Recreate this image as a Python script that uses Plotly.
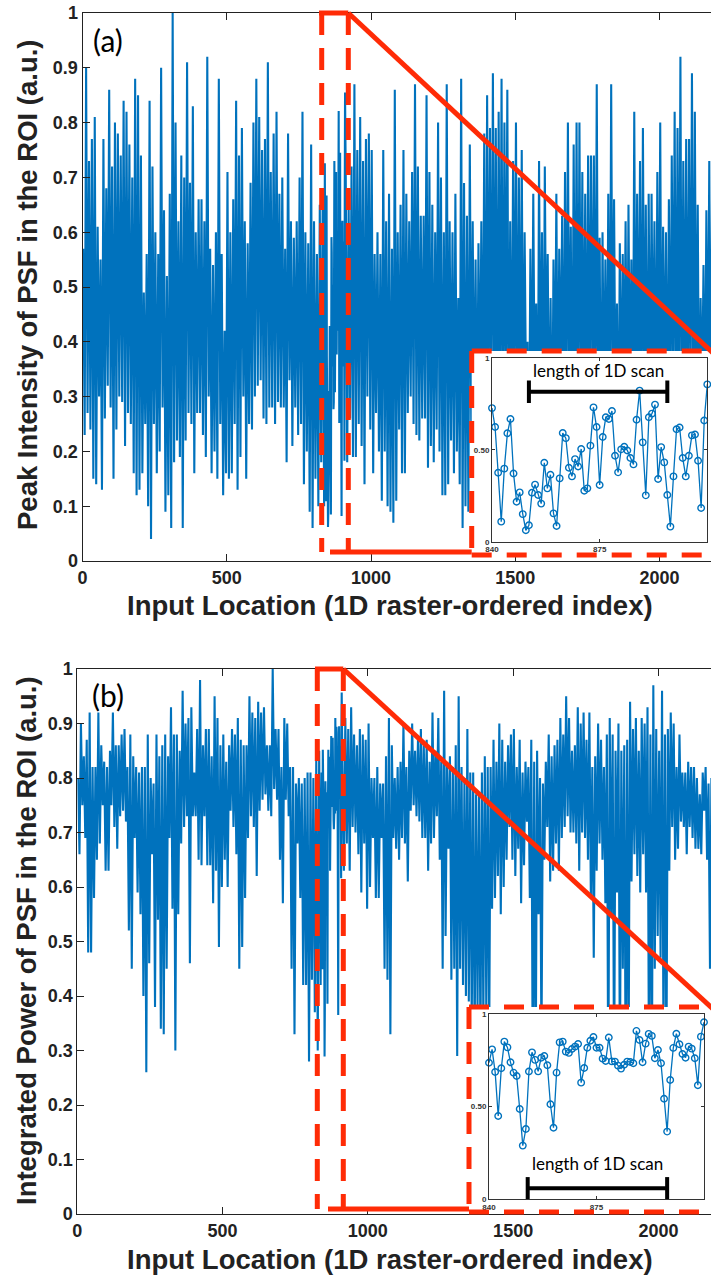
import plotly.graph_objects as go

W, H = 711, 1277
def px(x):
    return x / W
def py(y):
    return 1 - y / H

BLUE = '#0072BD'
RED = '#FF2B06'
BIN = 10
ZOOM_START, ZOOM_END = 840, 910

# ---------------- Panel (a): peak intensity ----------------
a_hi_pre = [0.57, 0.90, 0.73, 0.77, 0.81, 0.61, 0.55, 0.77, 0.68, 0.86,
            0.72, 0.80, 0.78, 0.74, 0.84, 0.82, 0.76, 0.70, 0.88, 0.85,
            0.74, 0.49, 0.56, 0.84, 0.72, 0.60, 0.56, 0.90, 0.64, 0.52,
            0.67, 1.00, 0.80, 0.62, 0.74, 0.70, 0.91, 0.69, 0.83, 0.60,
            0.66, 0.66, 0.62, 0.92, 0.57, 0.54, 0.60, 0.88, 0.56, 0.42,
            0.71, 0.60, 0.66, 0.84, 0.74, 0.79, 0.62, 0.58, 0.69, 0.80,
            0.88, 0.81, 0.75, 0.77, 0.91, 0.71, 0.78, 0.82, 0.67, 0.70,
            0.57, 0.78, 0.62, 0.59,
            0.62, 0.70, 0.82, 0.60, 0.58, 0.76, 0.62, 0.56, 0.65, 0.66]
a_lo_pre = [0.23, 0.27, 0.24, 0.15, 0.14, 0.30, 0.13, 0.26, 0.32, 0.28,
            0.15, 0.24, 0.30, 0.29, 0.21, 0.27, 0.25, 0.16, 0.12, 0.13,
            0.16, 0.25, 0.10, 0.04, 0.25, 0.16, 0.20, 0.28, 0.09, 0.12,
            0.06, 0.18, 0.22, 0.19, 0.06, 0.22, 0.27, 0.25, 0.16, 0.27,
            0.27, 0.23, 0.19, 0.30, 0.16, 0.20, 0.15, 0.25, 0.12, 0.16,
            0.15, 0.16, 0.25, 0.13, 0.19, 0.30, 0.15, 0.25, 0.24, 0.30,
            0.32, 0.33, 0.26, 0.25, 0.28, 0.28, 0.25, 0.29, 0.28, 0.28,
            0.18, 0.33, 0.21, 0.28,
            0.23, 0.25, 0.14, 0.20, 0.09, 0.06, 0.15, 0.10, 0.18, 0.10]
a_inset = [0.726, 0.623, 0.375, 0.109, 0.397, 0.589, 0.667, 0.371, 0.217, 0.268,
           0.150, 0.062, 0.089, 0.266, 0.310, 0.254, 0.207, 0.429, 0.290, 0.364,
           0.154, 0.085, 0.344, 0.591, 0.563, 0.402, 0.355, 0.449, 0.409, 0.504,
           0.277, 0.290, 0.522, 0.730, 0.623, 0.308, 0.569, 0.676, 0.667, 0.710,
           0.467, 0.377, 0.502, 0.516, 0.496, 0.455, 0.420, 0.663, 0.821, 0.540,
           0.252, 0.676, 0.696, 0.745, 0.341, 0.514, 0.431, 0.254, 0.082, 0.355,
           0.611, 0.621, 0.455, 0.355, 0.467, 0.578, 0.583, 0.440, 0.183, 0.659,
           0.855]
a_hi_post = [0.70, 0.65, 0.72, 0.87, 0.75, 0.81, 0.73, 0.77, 0.78, 0.75,
             0.56, 0.60, 0.56, 0.75, 0.62, 0.67, 0.57, 0.86, 0.60, 0.65,
             0.75, 0.67, 0.62, 0.71, 0.87, 0.72, 0.63, 0.63, 0.85, 0.71,
             0.65, 0.60, 0.80, 0.70, 0.60, 0.87, 0.62, 0.60, 0.67, 0.48,
             0.88, 0.69, 0.63, 0.76, 0.62, 0.55, 0.58, 0.62, 0.78, 0.85,
             0.79, 0.89, 0.79, 0.82, 0.88, 0.80, 0.86, 0.62, 0.73, 0.80,
             0.70, 0.75, 0.60, 0.40, 0.57, 0.67, 0.47, 0.73, 0.60, 0.72,
             0.56, 0.48, 0.55, 0.67, 0.57, 0.63, 0.71, 0.80, 0.61, 0.76,
             0.80, 0.80, 0.71, 0.67, 0.74, 0.74, 0.74, 0.87, 0.59, 0.60,
             0.55, 0.67, 0.87, 0.66, 0.47, 0.58, 0.56, 0.62, 0.65, 0.55,
             0.82, 0.67, 0.73, 0.79, 0.65, 0.67, 0.67, 0.62, 0.71, 0.80,
             0.61, 0.60, 0.66, 0.74, 0.82, 0.79, 0.92, 0.73, 0.77, 0.77,
             0.89, 0.82, 0.65, 0.48, 0.54, 0.64, 0.73, 0.70, 0.60]
a_lo_post = [0.18, 0.26, 0.19, 0.19, 0.25, 0.21, 0.14, 0.30, 0.24, 0.16,
             0.27, 0.20, 0.11, 0.20, 0.10, 0.09, 0.07, 0.11, 0.24, 0.16,
             0.16, 0.27, 0.30, 0.25, 0.23, 0.22, 0.26, 0.26, 0.17, 0.21,
             0.18, 0.24, 0.20, 0.12, 0.12, 0.14, 0.22, 0.16, 0.20, 0.14,
             0.06, 0.10, 0.09, 0.25, 0.20, 0.18, 0.25, 0.21, 0.15, 0.27,
             0.22, 0.26, 0.19, 0.24, 0.20, 0.28, 0.17, 0.22, 0.30, 0.18,
             0.24, 0.21, 0.29, 0.15, 0.23, 0.27, 0.12, 0.25, 0.20, 0.31,
             0.18, 0.14, 0.26, 0.22, 0.30, 0.19, 0.24, 0.28, 0.16, 0.25,
             0.21, 0.29, 0.23, 0.17, 0.26, 0.30, 0.20, 0.24, 0.13, 0.27,
             0.22, 0.19, 0.28, 0.25, 0.15, 0.23, 0.31, 0.20, 0.26, 0.18,
             0.24, 0.29, 0.21, 0.27, 0.16, 0.23, 0.30, 0.19, 0.25, 0.22,
             0.28, 0.17, 0.24, 0.30, 0.21, 0.26, 0.19, 0.27, 0.23, 0.29,
             0.20, 0.25, 0.18, 0.28, 0.22, 0.26, 0.17, 0.24, 0.21]

# ---------------- Panel (b): integrated power ----------------
b_hi_pre = [0.80, 0.90, 0.84, 0.87, 0.92, 0.82, 0.82, 0.92, 0.86, 0.83,
            0.82, 0.85, 0.92, 0.86, 0.86, 0.88, 0.89, 0.82, 0.88, 0.84,
            0.82, 0.81, 0.82, 0.82, 0.88, 0.80, 0.79, 0.88, 0.84, 0.86,
            0.88, 0.84, 0.93, 0.88, 0.88, 0.85, 0.96, 0.90, 0.91, 0.93,
            0.81, 0.89, 0.98, 0.86, 0.89, 0.89, 0.84, 0.95, 0.91, 0.86,
            0.88, 0.83, 0.86, 0.89, 0.88, 0.91, 0.87, 0.86, 0.86, 0.95,
            0.92, 0.91, 0.94, 0.92, 0.93, 0.86, 0.86, 1.00, 0.89, 0.89,
            0.82, 0.91, 0.90, 0.82, 0.82, 0.79, 0.80, 0.79, 0.80, 0.81,
            0.81, 0.80, 0.84, 0.85]
b_lo_pre = [0.66, 0.75, 0.69, 0.48, 0.48, 0.58, 0.65, 0.68, 0.75, 0.63,
            0.63, 0.75, 0.71, 0.67, 0.73, 0.74, 0.72, 0.52, 0.45, 0.69,
            0.59, 0.55, 0.40, 0.26, 0.46, 0.66, 0.38, 0.54, 0.34, 0.33,
            0.45, 0.69, 0.56, 0.30, 0.55, 0.68, 0.71, 0.73, 0.46, 0.73,
            0.73, 0.65, 0.64, 0.73, 0.64, 0.64, 0.57, 0.63, 0.49, 0.60,
            0.65, 0.60, 0.74, 0.71, 0.66, 0.45, 0.49, 0.58, 0.69, 0.73,
            0.71, 0.62, 0.74, 0.76, 0.77, 0.74, 0.73, 0.78, 0.76, 0.65,
            0.57, 0.76, 0.73, 0.45, 0.33, 0.68, 0.58, 0.42, 0.42, 0.28,
            0.43, 0.37, 0.30, 0.42]
b_inset = [0.738, 0.810, 0.688, 0.449, 0.708, 0.852, 0.821, 0.740, 0.684, 0.666,
           0.487, 0.289, 0.379, 0.690, 0.794, 0.753, 0.691, 0.765, 0.774, 0.724,
           0.513, 0.386, 0.684, 0.848, 0.852, 0.798, 0.791, 0.812, 0.825, 0.839,
           0.630, 0.709, 0.819, 0.857, 0.877, 0.819, 0.819, 0.760, 0.747, 0.874,
           0.745, 0.744, 0.722, 0.706, 0.727, 0.744, 0.742, 0.735, 0.910, 0.861,
           0.740, 0.841, 0.894, 0.883, 0.762, 0.807, 0.735, 0.543, 0.365, 0.644,
           0.818, 0.895, 0.838, 0.785, 0.765, 0.825, 0.814, 0.762, 0.616, 0.879,
           0.957]
b_hi_post = [0.82, 0.91, 0.89, 0.93, 0.88, 0.86, 0.89, 0.88, 0.87, 0.90,
             0.80, 0.80, 0.82, 0.79, 0.79, 0.84, 0.91, 0.86, 0.80, 0.82,
             0.83, 0.90, 0.82, 0.85, 0.90, 0.85, 0.87, 0.89, 0.86, 0.87,
             0.83, 0.92, 0.85, 0.91, 0.83, 0.96, 0.82, 0.84, 0.82, 0.86,
             0.95, 0.82, 0.80, 0.89, 0.81, 0.81, 0.77, 0.77, 0.81, 0.84,
             0.82, 0.82, 0.87, 0.83, 0.90, 0.87, 0.83, 0.86, 0.88, 0.89,
             0.82, 0.87, 0.81, 0.83, 0.82, 0.87, 0.83, 0.85, 0.80, 0.79,
             0.83, 0.88, 0.84, 0.86, 0.87, 0.91, 0.88, 0.95, 0.91, 0.85,
             0.86, 0.93, 0.90, 0.92, 0.87, 0.92, 0.82, 0.84, 0.90, 0.87,
             0.82, 0.88, 0.91, 0.88, 0.85, 0.90, 0.85, 0.86, 0.87, 0.94,
             0.89, 0.91, 0.85, 0.91, 0.90, 0.93, 0.88, 0.97, 0.89, 0.85,
             0.96, 0.88, 0.89, 0.92, 0.90, 0.82, 0.88, 0.81, 0.81, 0.83,
             0.82, 0.82, 0.80, 0.77, 0.81, 0.82, 0.79, 0.80, 0.82]
b_lo_post = [0.63, 0.68, 0.63, 0.71, 0.70, 0.66, 0.59, 0.68, 0.56, 0.60,
             0.69, 0.58, 0.58, 0.69, 0.45, 0.43, 0.33, 0.69, 0.67, 0.65,
             0.69, 0.68, 0.61, 0.74, 0.75, 0.73, 0.72, 0.69, 0.69, 0.63,
             0.68, 0.69, 0.73, 0.65, 0.45, 0.51, 0.67, 0.43, 0.45, 0.29,
             0.45, 0.42, 0.40, 0.39, 0.34, 0.30, 0.38, 0.30, 0.35, 0.38,
             0.30, 0.56, 0.58, 0.62, 0.55, 0.60, 0.65, 0.71, 0.65, 0.62,
             0.67, 0.57, 0.64, 0.72, 0.58, 0.25, 0.22, 0.55, 0.30, 0.65,
             0.71, 0.61, 0.63, 0.68, 0.63, 0.69, 0.71, 0.73, 0.70, 0.70,
             0.68, 0.63, 0.70, 0.69, 0.65, 0.58, 0.47, 0.63, 0.68, 0.65,
             0.57, 0.20, 0.55, 0.22, 0.59, 0.25, 0.45, 0.20, 0.28, 0.61,
             0.66, 0.62, 0.59, 0.66, 0.59, 0.25, 0.22, 0.45, 0.51, 0.47,
             0.30, 0.25, 0.63, 0.71, 0.65, 0.67, 0.72, 0.71, 0.66, 0.71,
             0.69, 0.67, 0.67, 0.66, 0.74, 0.65, 0.45, 0.66, 0.70]

x_ticks = [0, 500, 1000, 1500, 2000]
y_ticks = [0, 0.1, 0.2, 0.3, 0.4, 0.5, 0.6, 0.7, 0.8, 0.9, 1.0]
y_ticktext = ['0', '0.1', '0.2', '0.3', '0.4', '0.5', '0.6', '0.7', '0.8', '0.9', '1']
inset_xticks = [840, 875, 910]
inset_yticks = [0, 0.5, 1]
inset_yticktext = ['0', '0.50', '1']
scan_a = [852, 897]
scan_b = [852.6, 898]


def build(hi_pre, lo_pre, inset, hi_post, lo_post):
    xs, ys = [], []
    for k, (h, l) in enumerate(zip(hi_pre, lo_pre)):
        xs += [BIN * k + 2.5, BIN * k + 7.5]
        ys += [h, l]
    for n, v in enumerate(inset):
        xs.append(ZOOM_START + n)
        ys.append(v)
    for k, (h, l) in enumerate(zip(hi_post, lo_post)):
        xs += [ZOOM_END + BIN * k + 2.5, ZOOM_END + BIN * k + 7.5]
        ys += [h, l]
    return xs, ys


xa, ya = build(a_hi_pre, a_lo_pre, a_inset, a_hi_post, a_lo_post)
xb, yb = build(b_hi_pre, b_lo_pre, b_inset, b_hi_post, b_lo_post)
inset_x = list(range(ZOOM_START, ZOOM_END + 1))

fig = go.Figure()
fig.add_trace(go.Scatter(x=xa, y=ya, mode='lines', line=dict(color=BLUE, width=2.1),
                         xaxis='x', yaxis='y', showlegend=False, hoverinfo='skip'))
fig.add_trace(go.Scatter(x=xb, y=yb, mode='lines', line=dict(color=BLUE, width=2.1),
                         xaxis='x2', yaxis='y2', showlegend=False, hoverinfo='skip'))
fig.add_trace(go.Scatter(x=[None], y=[None], xaxis='x3', yaxis='y3', showlegend=False))
fig.add_trace(go.Scatter(x=[None], y=[None], xaxis='x4', yaxis='y4', showlegend=False))
for xr, yr, vals, scan, ytxt, ybar in [('x5', 'y5', a_inset, scan_a, 0.93, 0.815),
                                      ('x6', 'y6', b_inset, scan_b, 0.19, 0.058)]:
    fig.add_trace(go.Scatter(x=inset_x, y=vals, mode='lines+markers',
                             line=dict(color=BLUE, width=1.3),
                             marker=dict(symbol='circle-open', size=6.5, color=BLUE,
                                         line=dict(width=1.4, color=BLUE)),
                             xaxis=xr, yaxis=yr, showlegend=False, cliponaxis=False,
                             hoverinfo='skip'))
    fig.add_trace(go.Scatter(x=scan, y=[ybar, ybar], mode='lines+markers',
                             line=dict(color='black', width=4),
                             marker=dict(symbol='line-ns', size=16,
                                         line=dict(width=4, color='black')),
                             xaxis=xr, yaxis=yr, showlegend=False, hoverinfo='skip'))
    fig.add_annotation(x=(scan[0] + scan[1]) / 2, y=ytxt, xref=xr, yref=yr,
                       text='length of 1D scan', showarrow=False,
                       xanchor='center', yanchor='middle',
                       font=dict(family='Lato', size=17, color='black'))

tickfont = dict(family='Liberation Sans', size=18, color='#222222', weight='bold')
main_x = dict(range=[0, 2178.5], tickvals=x_ticks, ticks='inside', ticklen=7,
              tickwidth=1, tickcolor='#222222', showline=True, linecolor='#222222',
              linewidth=1, mirror='ticks', showgrid=False, zeroline=False,
              tickfont=tickfont, automargin=False)
main_y = dict(range=[0, 1], tickvals=y_ticks, ticktext=y_ticktext, ticks='inside',
              ticklen=7, tickwidth=1, tickcolor='#222222', showline=True,
              linecolor='#222222', linewidth=1, mirror=False, showgrid=False,
              zeroline=False, tickfont=tickfont, automargin=False)
cover = dict(showline=False, showgrid=False, zeroline=False, showticklabels=False,
             ticks='', range=[0, 1], fixedrange=True, automargin=False)
inset_font = dict(family='Liberation Sans', size=8, color='#333333', weight='bold')
inset_x_ax = dict(range=[ZOOM_START, ZOOM_END], tickvals=inset_xticks, ticks='inside',
                  ticklen=3, tickcolor='#333333', showline=True, linecolor='#333333',
                  linewidth=1, mirror='ticks', showgrid=False, zeroline=False,
                  tickfont=inset_font, automargin=False)
inset_y_ax = dict(range=[0, 1], tickvals=inset_yticks, ticktext=inset_yticktext,
                  ticks='inside', ticklen=3, tickcolor='#333333', showline=True,
                  linecolor='#333333', linewidth=1, mirror='ticks', showgrid=False,
                  zeroline=False, tickfont=inset_font, automargin=False)

fig.update_layout(
    template='none',
    width=W, height=H, margin=dict(l=0, r=0, t=0, b=0, pad=0, autoexpand=False),
    paper_bgcolor='white', plot_bgcolor='white',
    xaxis=dict(main_x, domain=[px(82.5), 1], anchor='y'),
    yaxis=dict(main_y, domain=[py(561), py(13)], anchor='x'),
    xaxis2=dict(main_x, domain=[px(77.3), 1], anchor='y2', range=[0, 2181]),
    yaxis2=dict(main_y, domain=[py(1214), py(669)], anchor='x2'),
    xaxis3=dict(cover, domain=[px(471.7), 1], anchor='y3'),
    yaxis3=dict(cover, domain=[py(555), py(351)], anchor='x3'),
    xaxis4=dict(cover, domain=[px(469), 1], anchor='y4'),
    yaxis4=dict(cover, domain=[py(1212), py(1007)], anchor='x4'),
    xaxis5=dict(inset_x_ax, domain=[px(492), px(707.3)], anchor='y5'),
    yaxis5=dict(inset_y_ax, domain=[py(541.7), py(357.7)], anchor='x5'),
    xaxis6=dict(inset_x_ax, domain=[px(489), px(704)], anchor='y6'),
    yaxis6=dict(inset_y_ax, domain=[py(1199), py(1014.3)], anchor='x6'),
)

title_font = dict(family='Liberation Sans', size=27.5, color='#222222', weight='bold')


def label(x, y, text, font, angle=0):
    fig.add_annotation(x=px(x), y=py(y), xref='paper', yref='paper', showarrow=False,
                       xanchor='center', yanchor='middle', textangle=angle,
                       text=text, font=font)


label(390, 605, 'Input Location (1D raster-ordered index)', title_font)
label(390, 1259, 'Input Location (1D raster-ordered index)', title_font)
label(27, 285, 'Peak Intensity of PSF in the ROI (a.u.)', title_font, -90)
label(26, 941, 'Integrated Power of PSF in the ROI (a.u.)', title_font, -90)
label(108, 40, '(a)', dict(family='Lato', size=30, color='black'))
label(108, 695, '(b)', dict(family='Lato', size=30, color='black'))


def seg(x0, y0, x1, y1, dash='solid', width=5):
    fig.add_shape(type='line', xref='paper', yref='paper', layer='above',
                  x0=px(x0), y0=py(y0), x1=px(x1), y1=py(y1),
                  line=dict(color=RED, width=width, dash=dash))


VDASH = '22px,13px'
HDASH = '20px,15px'
# panel (a) decorations
seg(321.7, 13, 321.7, 552, VDASH)
seg(348.3, 13, 348.3, 552, VDASH)
seg(319, 13, 348.3, 13)
seg(348.3, 13, 713, 353)
seg(330, 552, 471.7, 552)
seg(471.7, 351, 713, 351, HDASH)
seg(471.7, 351, 471.7, 555, VDASH)
seg(471.7, 555, 713, 555, HDASH)
# panel (b) decorations
seg(317.3, 669, 317.3, 1209, VDASH)
seg(343.3, 669, 343.3, 1209, VDASH)
seg(315, 669, 343.3, 669)
seg(343.3, 669, 713, 1009)
seg(328, 1209, 469, 1209)
seg(469, 1007, 713, 1007, HDASH)
seg(469, 1007, 469, 1212, VDASH)
seg(469, 1212, 713, 1212, HDASH)

fig.write_html('out.html',
               config={'displayModeBar': False, 'staticPlot': True},
               post_script="document.documentElement.style.margin='0';"
                           "document.body.style.margin='0';"
                           "document.body.style.overflow='hidden';")
